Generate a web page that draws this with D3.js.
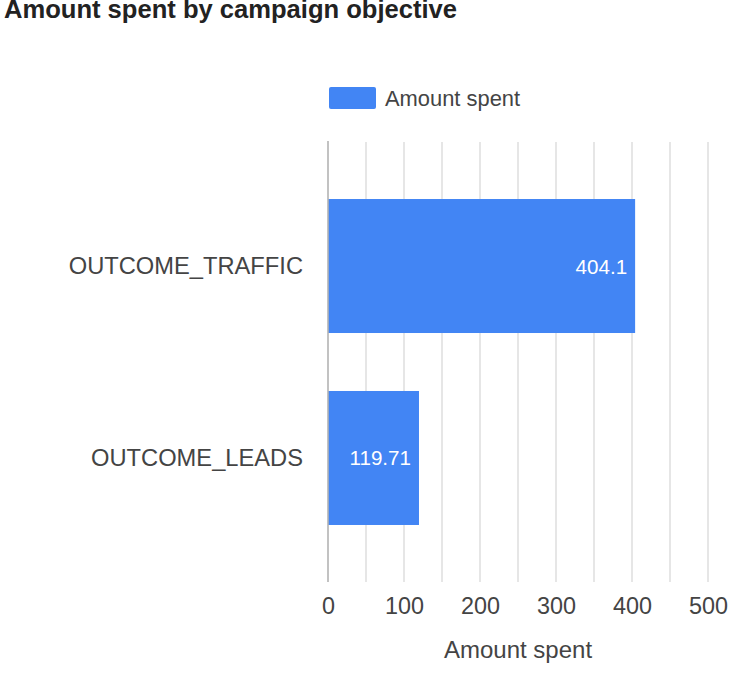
<!DOCTYPE html>
<html>
<head>
<meta charset="utf-8">
<script src="https://cdn.jsdelivr.net/npm/d3@7"></script>
<style>
  html, body { margin: 0; padding: 0; background: #fff; }
  svg { display: block; font-family: "Liberation Sans", Arial, sans-serif; }
</style>
</head>
<body>
<svg id="chart" width="733" height="699"></svg>
<script>
const categories = ["OUTCOME_TRAFFIC", "OUTCOME_LEADS"];
const amountSpent = [404.1, 119.71];
const xTicks = [0, 100, 200, 300, 400, 500];
const gridValues = [50, 100, 150, 200, 250, 300, 350, 400, 450, 500];
const titleText = "Amount spent by campaign objective";
const seriesName = "Amount spent";
const axisTitle = "Amount spent";

const svg = d3.select("#chart");
const plot = { left: 328, right: 708, top: 142, bottom: 582 };

const x = d3.scaleLinear().domain([0, 500]).range([plot.left, plot.right]);
const y = d3.scaleBand().domain(categories).range([plot.top, plot.bottom])
  .paddingInner(0.302).paddingOuter(0.297);

// title (slightly cut off at the top edge, as in the reference)
svg.append("text").attr("x", 4).attr("y", 18)
  .attr("font-size", 26.5).attr("font-weight", "bold").attr("fill", "#222")
  .attr("textLength", 453).attr("lengthAdjust", "spacingAndGlyphs")
  .text(titleText);

// legend
svg.append("rect").attr("x", 329).attr("y", 87).attr("width", 47).attr("height", 22)
  .attr("rx", 2).attr("fill", "#4285f4");
svg.append("text").attr("x", 385).attr("y", 98).attr("dominant-baseline", "central")
  .attr("font-size", 21.9).attr("fill", "#444").text(seriesName);

// gridlines
svg.append("g").selectAll("line").data(gridValues).join("line")
  .attr("x1", d => x(d)).attr("x2", d => x(d))
  .attr("y1", plot.top).attr("y2", plot.bottom)
  .attr("stroke", "#d9d9d9").attr("stroke-width", 1.3);

// bars
svg.append("g").selectAll("rect").data(categories).join("rect")
  .attr("x", x(0)).attr("y", d => y(d))
  .attr("width", (d, i) => x(amountSpent[i]) - x(0))
  .attr("height", y.bandwidth())
  .attr("fill", "#4285f4");

// zero line
svg.append("line").attr("x1", x(0)).attr("x2", x(0))
  .attr("y1", plot.top - 1).attr("y2", plot.bottom)
  .attr("stroke", "#b3b3b3").attr("stroke-width", 1.6);

// data labels
svg.append("g").selectAll("text").data(categories).join("text")
  .attr("x", (d, i) => x(amountSpent[i]) - 8)
  .attr("y", d => y(d) + y.bandwidth() / 2)
  .attr("text-anchor", "end").attr("dominant-baseline", "central")
  .attr("font-size", 20.6).attr("fill", "#fff")
  .text((d, i) => String(amountSpent[i]));

// y axis labels
const yAxis = d3.axisLeft(y).tickSize(0).tickPadding(25);
const gy = svg.append("g").attr("transform", `translate(${plot.left},0)`).call(yAxis);
gy.select(".domain").remove();
gy.selectAll("text").attr("font-size", 23.7).attr("fill", "#444")
  .attr("font-family", "Liberation Sans, Arial, sans-serif");

// x axis labels
const xAxis = d3.axisBottom(x).tickValues(xTicks).tickSize(0).tickPadding(0).tickFormat(d3.format("d"));
const gx = svg.append("g").attr("transform", `translate(0,${plot.bottom})`).call(xAxis);
gx.select(".domain").remove();
gx.selectAll("text").attr("dy", null).attr("y", 24).attr("dominant-baseline", "central")
  .attr("font-size", 23.4).attr("fill", "#444")
  .attr("font-family", "Liberation Sans, Arial, sans-serif");

// axis title
svg.append("text").attr("x", 518).attr("y", 649).attr("text-anchor", "middle")
  .attr("dominant-baseline", "central").attr("font-size", 24).attr("fill", "#444")
  .text(axisTitle);
</script>
</body>
</html>
